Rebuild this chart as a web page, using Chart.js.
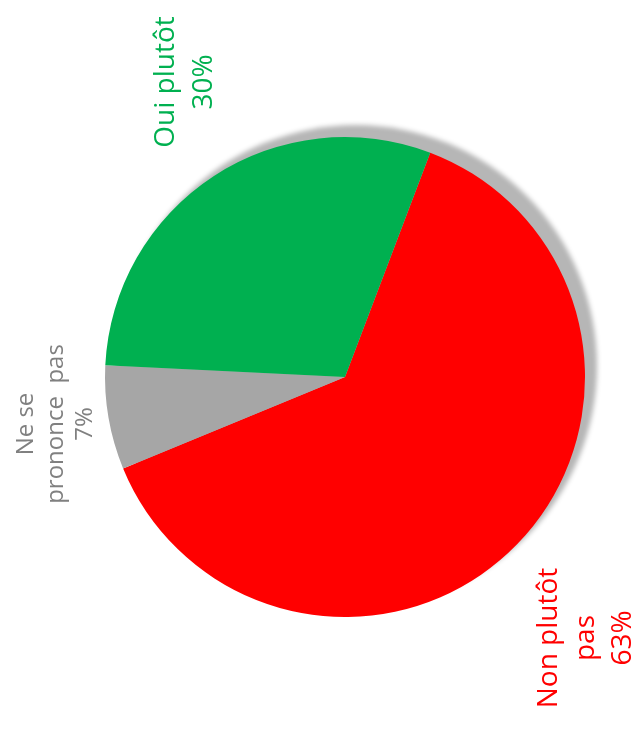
<!DOCTYPE html>
<html>
<head>
<meta charset="utf-8">
<script src="https://cdn.jsdelivr.net/npm/chart.js@4"></script>
<style>
  html, body { margin: 0; padding: 0; background: #ffffff; }
  #wrap { width: 634px; height: 731px; position: relative; }
</style>
</head>
<body>
<div id="wrap"><canvas id="c" width="634" height="731"></canvas></div>
<script>
// ---- data ----
const categories = ['Non plutôt pas', 'Ne se prononce pas', 'Oui plutôt'];
const labelLines = [['Non plutôt', 'pas'], ['Ne se', 'prononce  pas'], ['Oui plutôt']];
const values = [63, 7, 30];
const sliceColors = ['#FF0000', '#A6A6A6', '#00B050'];
const textColors = ['#FF0000', '#808080', '#00B050'];

// label placement relative to the pie centre (px): [first baseline x, centre y], line step, font size
const labelStyle = [
  { bx: 212, cy: 261, step: 37, size: 28 },
  { bx: -312, cy: 47, step: 29.5, size: 24 },
  { bx: -171, cy: -295, step: 38, size: 28 }
];

const shadowPlugin = {
  id: 'pieShadow',
  beforeDatasetsDraw(chart) {
    const arc = chart.getDatasetMeta(0).data[0];
    if (!arc) return;
    const { x, y, outerRadius } = arc.getProps(['x', 'y', 'outerRadius'], true);
    const ctx = chart.ctx;
    const far = 5000;
    ctx.save();
    ctx.shadowColor = 'rgb(182,182,182)';
    ctx.shadowBlur = 5;
    ctx.shadowOffsetX = far + 11;
    ctx.shadowOffsetY = -11;
    ctx.fillStyle = 'rgb(182,182,182)';
    ctx.beginPath();
    ctx.arc(x - far, y, outerRadius + 1, 0, Math.PI * 2);
    ctx.fill();
    ctx.restore();
  }
};

const labelPlugin = {
  id: 'rotLabels',
  afterDatasetsDraw(chart) {
    const arc = chart.getDatasetMeta(0).data[0];
    if (!arc) return;
    const { x, y } = arc.getProps(['x', 'y'], true);
    const ctx = chart.ctx;
    categories.forEach((cat, i) => {
      const st = labelStyle[i];
      const lines = labelLines[i].concat([values[i] + '%']);
      ctx.save();
      ctx.fillStyle = textColors[i];
      ctx.font = st.size + 'px "Open Sans", "Noto Sans", sans-serif';
      ctx.textAlign = 'center';
      ctx.textBaseline = 'alphabetic';
      lines.forEach((ln, k) => {
        ctx.save();
        ctx.translate(x + st.bx + k * st.step, y + st.cy);
        ctx.rotate(-Math.PI / 2);
        ctx.fillText(ln, 0, 0);
        ctx.restore();
      });
      ctx.restore();
    });
  }
};

new Chart(document.getElementById('c'), {
  type: 'pie',
  data: {
    labels: categories,
    datasets: [{
      data: values,
      backgroundColor: sliceColors,
      borderWidth: 0
    }]
  },
  options: {
    responsive: false,
    animation: false,
    rotation: 20.8,
    layout: { padding: { left: 105, right: 49, top: 137, bottom: 114 } },
    plugins: { legend: { display: false }, tooltip: { enabled: false } }
  },
  plugins: [shadowPlugin, labelPlugin]
});
</script>
</body>
</html>
